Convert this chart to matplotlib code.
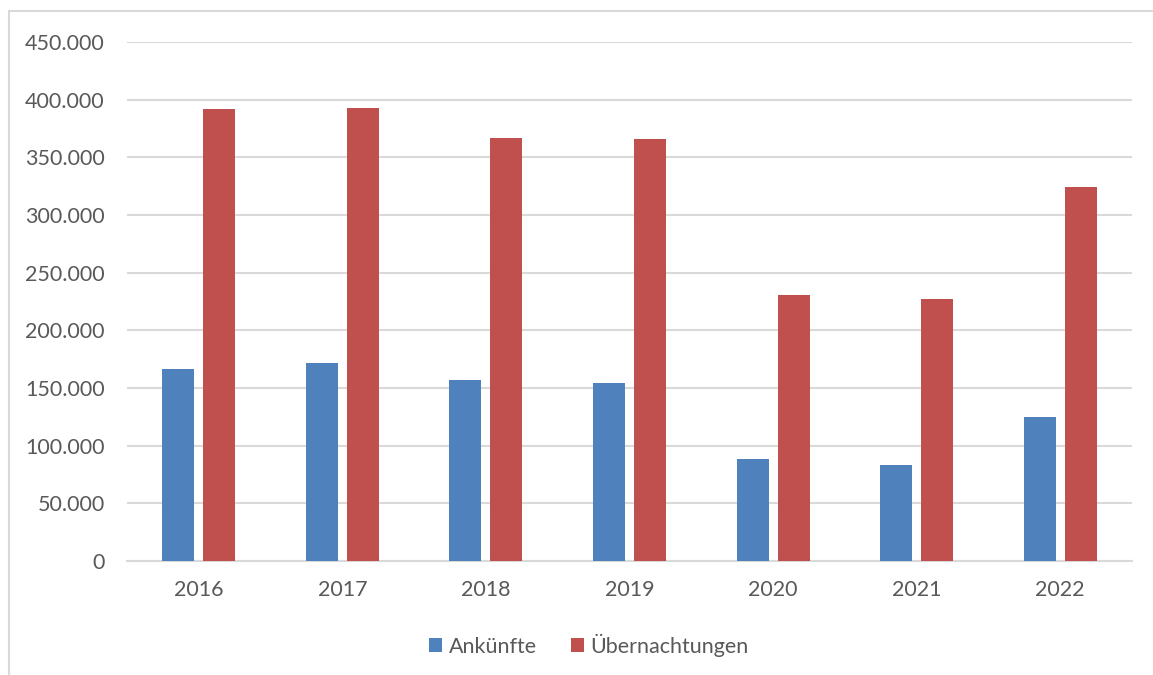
import matplotlib
matplotlib.use("Agg")
import matplotlib.pyplot as plt
import numpy as np
from matplotlib.patches import Rectangle
from matplotlib.ticker import FuncFormatter

years = ["2016", "2017", "2018", "2019", "2020", "2021", "2022"]
ankuenfte = [166200, 171400, 156900, 154300, 88200, 83200, 124600]
uebernachtungen = [391900, 392500, 366700, 365900, 230400, 227200, 324000]

plt.rcParams["font.family"] = ["Lato", "DejaVu Sans"]

fig = plt.figure(figsize=(11.53, 6.75), dpi=100)
ax = fig.add_axes([127 / 1153, 1 - 561 / 675, (1132 - 127) / 1153, (561 - 42) / 675])

x = np.arange(len(years))
w = 0.223
off = 0.143
ax.bar(x - off, ankuenfte, w, color="#4f81bd", label="Ankünfte", zorder=3)
ax.bar(x + off, uebernachtungen, w, color="#c0504d", label="Übernachtungen", zorder=3)

ax.set_xlim(-0.5, len(years) - 0.5)
ax.set_ylim(0, 450000)
ax.set_yticks(np.arange(0, 450001, 50000))
ax.yaxis.set_major_formatter(FuncFormatter(lambda v, p: f"{int(v):,}".replace(",", ".")))
ax.set_xticks(x, years)

ax.grid(axis="y", color="#d9d9d9", linewidth=1.5, zorder=0)
for s in ["top", "right", "left"]:
    ax.spines[s].set_visible(False)
ax.spines["bottom"].set_color("#d9d9d9")
ax.spines["bottom"].set_linewidth(1.5)
ax.tick_params(length=0, labelsize=15.5, colors="#595959")
ax.tick_params(axis="y", pad=16)
ax.tick_params(axis="x", pad=14)

fig.legend(loc="center", bbox_to_anchor=(589 / 1153, 1 - 645 / 675), ncol=2, frameon=False,
           fontsize=15.5, handlelength=0.6, handleheight=0.6, handletextpad=0.3,
           columnspacing=1.6, labelcolor="#595959")

# outer chart frame
fig.patches.append(Rectangle((9 / 1153, -0.1), 1.2, 1 - 11 / 675 + 0.1, transform=fig.transFigure,
                             fill=False, edgecolor="#d9d9d9", linewidth=1.5))

fig.savefig("out.png", dpi=100)
